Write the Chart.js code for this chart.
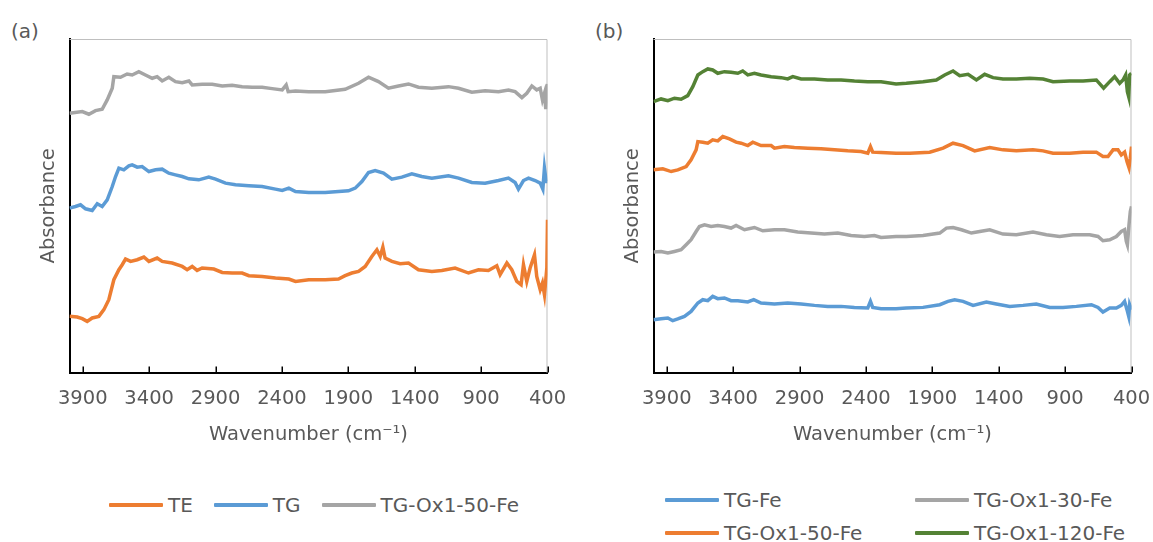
<!DOCTYPE html>
<html>
<head>
<meta charset="utf-8">
<script src="https://cdn.jsdelivr.net/npm/chart.js@4.4.1/dist/chart.umd.min.js"></script>
<style>
  html, body { margin: 0; padding: 0; background: #fff; }
  body { width: 1153px; height: 542px; overflow: hidden; position: relative; font-family: "DejaVu Sans", sans-serif; color: #595959; }
  canvas { position: absolute; top: 0; }
  #cA { left: 0; }
  #cB { left: 584px; }
  .panel { position: absolute; font-size: 20px; line-height: 24px; }
  .legend { position: absolute; font-size: 20px; line-height: 24px; color: #595959; }
  #legA { left: 109px; top: 493px; display: flex; }
  #legA .item { display: flex; align-items: center; margin-right: 21px; }
  #legB { left: 665px; top: 488px; display: grid; grid-template-columns: 250px 250px; row-gap: 8.5px; }
  #legB .item { display: flex; align-items: center; }
  .sw { display: inline-block; width: 54px; height: 4px; margin-right: 5px; border-radius: 1px; }
</style>
</head>
<body>
<div class="panel" style="left:11px; top:19px;">(a)</div>
<div class="panel" style="left:595px; top:19px;">(b)</div>
<canvas id="cA" width="576" height="470"></canvas>
<canvas id="cB" width="576" height="470"></canvas>
<div class="legend" id="legA"></div>
<div class="legend" id="legB"></div>
<script>
// ---- Axis ticks (wavenumber, cm-1) ----
const xTicks = [400, 900, 1400, 1900, 2400, 2900, 3400, 3900];
const xMin = 400, xMax = 4000;
const yMin = 0, yMax = 334; // arbitrary absorbance units (offset spectra)

// ---- Panel (a) series: [wavenumber, absorbance (offset, a.u.)] ----
const TE = [[4000,56.3],[3942,55.7],[3904,54],[3867,51.3],[3829,54.7],[3779,56.3],[3741,63],[3704,73],[3666,93],[3628,103],[3603,108],[3578,113.7],[3540,111.3],[3490,113],[3440,115.7],[3402,111.3],[3340,114.7],[3302,111.3],[3227,109.7],[3151,106.3],[3114,103],[3076,106.3],[3039,102.3],[3001,104.7],[2913,103.7],[2850,100.3],[2775,99.7],[2700,99.7],[2649,97],[2549,96.3],[2449,94.7],[2348,93.7],[2298,91.3],[2198,93],[2074,93],[1974,93.7],[1924,97],[1874,99.7],[1823,101.3],[1773,106.3],[1723,116.3],[1685,123],[1660,116.3],[1640,125.7],[1623,114.7],[1572,111.3],[1510,109],[1447,109.7],[1372,103],[1271,101.3],[1196,102.3],[1096,104.7],[995,99.7],[920,103],[845,102.3],[782,107],[757,98],[706,109.7],[669,103],[631,91.3],[599,88],[581,108],[556,91.3],[531,104.7],[498,118],[481,96.3],[455,83],[438,89.7],[423,78],[405,104.7],[400,153]];
const TG = [[4000,164.7],[3955,166.3],[3917,168],[3879,164],[3829,162.3],[3791,169],[3754,166.3],[3716,173],[3678,186.3],[3653,196.3],[3628,204.7],[3591,203],[3553,207],[3528,208],[3490,205.7],[3453,206.3],[3402,201.3],[3352,203],[3302,203.7],[3252,199.7],[3202,198],[3151,196.3],[3101,194],[3026,193],[2951,195.7],[2900,193.7],[2825,189.7],[2750,188],[2649,187],[2549,186.3],[2449,183.7],[2398,182.3],[2348,184.7],[2298,181.3],[2198,180.3],[2074,180.3],[1899,182],[1848,184.7],[1798,191.3],[1748,200.3],[1698,202.3],[1635,199.7],[1572,193.7],[1497,195.7],[1422,199],[1347,196.3],[1271,194.7],[1146,197],[1070,194.7],[970,190.3],[870,189.7],[769,192.3],[694,194.7],[644,190.3],[619,183.7],[581,192.3],[543,194.7],[493,192.3],[455,189.7],[435,183.7],[423,204.7],[410,191.3],[400,191.3]];
const TG_Ox1_50_Fe_a = [[4000,259.7],[3904,261.3],[3854,258.7],[3804,262.3],[3754,263.7],[3716,273],[3678,284.7],[3666,296.3],[3616,295.7],[3566,299],[3528,298],[3478,301.3],[3428,298],[3377,294.7],[3340,296.3],[3302,292],[3252,295.7],[3202,291.3],[3151,290.3],[3101,292],[3076,288],[3001,288.7],[2925,288.7],[2850,287],[2775,287.7],[2700,286.3],[2624,285.7],[2549,285.7],[2474,284.3],[2398,283],[2368,288],[2353,281.3],[2298,282],[2198,281.3],[2074,281.3],[1924,283.7],[1823,289.7],[1748,295.7],[1673,291.3],[1598,284.7],[1522,287],[1447,289],[1372,285.7],[1271,284.7],[1146,286.3],[1070,284.7],[970,280.7],[870,282.3],[769,281.3],[694,283],[644,281.3],[593,275.3],[556,279.7],[518,287],[481,283],[455,284.7],[438,273],[423,279.7],[413,263.7],[400,289]];

// ---- Panel (b) series ----
const TG_Fe = [[4000,53],[3943,54],[3892,54.7],[3855,52],[3817,53.7],[3767,56.3],[3717,61.3],[3666,69.7],[3629,73],[3591,72],[3554,76.3],[3516,74],[3466,74.7],[3416,72],[3365,72],[3290,70.7],[3245,73],[3190,69.7],[3089,68.7],[2989,69.7],[2888,68.7],[2788,67.3],[2688,66.3],[2587,66.3],[2487,65.3],[2386,64.7],[2366,71.3],[2349,65.3],[2286,64],[2173,64],[2096,64.7],[1970,65.3],[1844,68],[1782,71.3],[1732,73],[1669,71.3],[1593,67.3],[1493,70.7],[1418,68.7],[1317,66.3],[1217,67.3],[1117,68.7],[1016,65.3],[916,65.3],[815,66.3],[702,68],[652,65.3],[615,60.7],[564,64.7],[514,64.7],[477,67.3],[452,71.3],[434,63],[421,56.3],[414,68],[400,63]];
const TG_Ox1_30_Fe = [[4000,120.7],[3943,121.3],[3892,119.7],[3842,121.3],[3792,123],[3754,128],[3717,133],[3679,141.3],[3654,146.3],[3616,148],[3566,146.3],[3516,147.3],[3466,146.3],[3416,144.7],[3378,147.3],[3315,143],[3240,145.3],[3177,142],[3089,143],[3014,143],[2914,140.7],[2813,139.7],[2713,138.7],[2612,139.7],[2512,137.3],[2412,136.3],[2336,137.3],[2286,135.3],[2173,136.3],[2096,136.3],[1970,137.3],[1844,139.7],[1794,144.7],[1744,145.3],[1681,143],[1606,139.7],[1543,141.3],[1468,143],[1368,138.7],[1267,138],[1142,140.7],[1041,138],[941,136.3],[841,138],[715,138],[652,136.3],[615,132],[564,133],[514,136.3],[477,141.3],[452,143],[439,131.3],[431,128],[419,148],[409,161.3],[400,166.3]];
const TG_Ox1_50_Fe_b = [[4000,203],[3930,204],[3867,201.3],[3817,203],[3754,206.3],[3717,213],[3679,223],[3666,231.3],[3629,230.7],[3591,229.7],[3554,233],[3516,232],[3478,236.3],[3428,234],[3378,230.7],[3340,229.7],[3290,227.3],[3252,230.7],[3190,227.3],[3114,227.3],[3089,224.7],[3014,226.3],[2939,225.3],[2838,224.7],[2738,224],[2637,223],[2537,222],[2437,221.3],[2386,219.7],[2366,226.3],[2349,220.7],[2286,220.3],[2173,219.7],[2070,219.7],[1920,220.7],[1819,224.7],[1744,229.7],[1669,227.3],[1581,222],[1468,225.3],[1368,223],[1267,222],[1142,223],[1066,222],[991,219.7],[866,219.7],[765,220.7],[665,220.7],[615,216.3],[577,216.3],[539,223],[502,223],[477,218],[452,220.7],[434,211.3],[419,205.3],[409,214.7],[400,226.3]];
const TG_Ox1_120_Fe = [[4000,271.3],[3943,274],[3892,272.3],[3842,274.7],[3792,273.7],[3742,277.3],[3704,286.3],[3666,298],[3629,301.3],[3591,304],[3554,303],[3516,299.7],[3466,301.3],[3416,300.7],[3365,299.7],[3328,302],[3290,298],[3240,299.7],[3190,298],[3114,296.3],[3039,295.3],[2989,294],[2951,296.3],[2888,294],[2788,294],[2688,293],[2587,293],[2487,292],[2386,291.3],[2286,291.3],[2173,289],[2096,289.7],[1970,291.3],[1870,293],[1807,298],[1744,302],[1694,297.3],[1631,298.7],[1568,293],[1506,298.7],[1443,295.3],[1368,294],[1267,294],[1167,294.7],[1066,294],[991,291.3],[866,292],[765,292],[665,293],[610,284.7],[564,291.3],[527,296.3],[489,289.7],[464,293],[444,298],[431,281.3],[421,276.3],[414,298],[401,299.7]];

const C_ORANGE = '#ED7D31', C_BLUE = '#5B9BD5', C_GRAY = '#A5A5A5', C_GREEN = '#548235';
const FONT = 'DejaVu Sans';
const TXT = '#595959';

const toXY = arr => arr.map(p => ({x: p[0], y: p[1]}));
const ds = (label, arr, color) => ({
  label, data: toXY(arr), borderColor: color, backgroundColor: color,
  borderWidth: 3.5, pointRadius: 0, showLine: true, tension: 0, fill: false
});

const framePlugin = {
  id: 'frame',
  beforeDatasetsDraw(chart) {
    const {ctx, chartArea: a} = chart;
    ctx.save();
    ctx.strokeStyle = '#bfbfbf';
    ctx.lineWidth = 1;
    ctx.beginPath();
    ctx.moveTo(a.left, a.top + 0.5);
    ctx.lineTo(a.right - 0.5, a.top + 0.5);
    ctx.lineTo(a.right - 0.5, a.bottom);
    ctx.stroke();
    ctx.restore();
  },
  afterDraw(chart) {
    const {ctx, chartArea: a, scales: {x}} = chart;
    ctx.save();
    ctx.strokeStyle = '#000';
    ctx.lineWidth = 1.5;
    ctx.beginPath();
    x.ticks.forEach(t => {
      const px = Math.round(x.getPixelForValue(t.value)) + 0.25;
      ctx.moveTo(px, a.bottom);
      ctx.lineTo(px, a.bottom - 6);
    });
    ctx.stroke();
    ctx.restore();
  }
};

function makeOptions() {
  return {
    responsive: false,
    animation: false,
    devicePixelRatio: 1,
    layout: { padding: { left: 0, top: 39, right: 28.5, bottom: 0 } },
    plugins: { legend: { display: false }, tooltip: { enabled: false }, title: { display: false } },
    scales: {
      x: {
        type: 'linear', reverse: true, min: xMin, max: xMax,
        afterBuildTicks: s => { s.ticks = xTicks.map(v => ({value: v})); },
        afterFit: s => { s.height = 97.4; },
        grid: { display: true, drawOnChartArea: false, drawTicks: false },
        border: { display: true, color: '#000', width: 2 },
        ticks: { color: TXT, font: { family: FONT, size: 19.5 }, padding: 15, maxRotation: 0, autoSkip: false,
                 callback: v => String(v) },
        title: { display: true, text: 'Wavenumber (cm⁻¹)', color: TXT, font: { family: FONT, size: 19.5 },
                 padding: { top: 0, bottom: 23 } }
      },
      y: {
        type: 'linear', min: yMin, max: yMax,
        afterFit: s => { s.width = 69.5; },
        grid: { display: true, drawOnChartArea: false, drawTicks: false },
        border: { display: true, color: '#000', width: 2 },
        ticks: { display: false },
        title: { display: true, text: 'Absorbance', color: TXT, font: { family: FONT, size: 19.5 },
                 padding: { top: 37, bottom: 0 } }
      }
    }
  };
}

const chartA = new Chart(document.getElementById('cA'), {
  type: 'scatter',
  data: { datasets: [ ds('TE', TE, C_ORANGE), ds('TG', TG, C_BLUE), ds('TG-Ox1-50-Fe', TG_Ox1_50_Fe_a, C_GRAY) ] },
  options: makeOptions(),
  plugins: [framePlugin]
});
const chartB = new Chart(document.getElementById('cB'), {
  type: 'scatter',
  data: { datasets: [ ds('TG-Fe', TG_Fe, C_BLUE), ds('TG-Ox1-30-Fe', TG_Ox1_30_Fe, C_GRAY),
                      ds('TG-Ox1-50-Fe', TG_Ox1_50_Fe_b, C_ORANGE), ds('TG-Ox1-120-Fe', TG_Ox1_120_Fe, C_GREEN) ] },
  options: makeOptions(),
  plugins: [framePlugin]
});

function buildLegend(chart, el) {
  chart.data.datasets.forEach(d => {
    const item = document.createElement('div');
    item.className = 'item';
    const sw = document.createElement('span');
    sw.className = 'sw';
    sw.style.background = d.borderColor;
    const tx = document.createElement('span');
    tx.textContent = d.label;
    item.appendChild(sw); item.appendChild(tx);
    el.appendChild(item);
  });
}
buildLegend(chartA, document.getElementById('legA'));
buildLegend(chartB, document.getElementById('legB'));
</script>
</body>
</html>
